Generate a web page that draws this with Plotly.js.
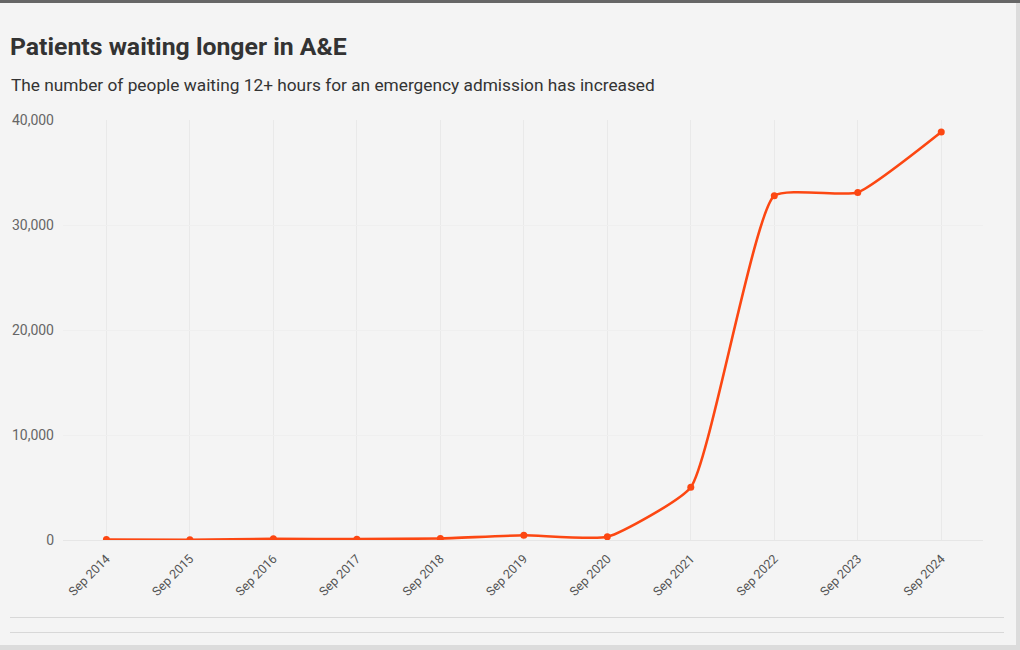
<!DOCTYPE html>
<html>
<head>
<meta charset="utf-8">
<script src="https://cdn.plot.ly/plotly-3.0.1.min.js"></script>
<style>
html,body{margin:0;padding:0;background:#f4f4f4;}
#chart{width:1020px;height:650px;}
</style>
</head>
<body>
<div id="chart"></div>
<script>
const categories = ["Sep 2014","Sep 2015","Sep 2016","Sep 2017","Sep 2018","Sep 2019","Sep 2020","Sep 2021","Sep 2022","Sep 2023","Sep 2024"];
const waiting12h = [50, 30, 110, 80, 150, 450, 300, 5025, 32776, 33100, 38850];
const yTickVals = [0, 10000, 20000, 30000, 40000];
const yTickText = ["0", "10,000", "20,000", "30,000", "40,000"];

const L = 63, R = 37, T = 120, B = 110, W = 1020, H = 650;
const PW = W - L - R, PH = H - T - B;
const px = x => (x - L) / PW;
const py = y => (H - B - y) / PH;

const trace = {
  x: categories,
  y: waiting12h,
  type: 'scatter',
  mode: 'lines+markers',
  line: {color: '#fc4712', width: 2.6, shape: 'spline', smoothing: 0.45},
  marker: {color: '#fc4712', size: 7},
  hoverinfo: 'x+y'
};

const layout = {
  width: W, height: H,
  margin: {l: L, r: R, t: T, b: B},
  paper_bgcolor: '#f4f4f4',
  plot_bgcolor: '#f4f4f4',
  font: {family: 'Roboto, sans-serif', color: '#555'},
  showlegend: false,
  xaxis: {
    type: 'category',
    range: [-0.52, 10.5],
    tickangle: -45,
    showgrid: true,
    gridcolor: '#e9e9e9',
    gridwidth: 1,
    zeroline: false,
    showline: false,
    ticks: '',
    ticklabelstandoff: 8,
    tickfont: {size: 12.5, color: '#555'}
  },
  yaxis: {
    range: [0, 40000],
    tickvals: yTickVals,
    ticktext: yTickText,
    showgrid: true,
    gridcolor: '#efefef',
    zeroline: true,
    zerolinecolor: '#e6e6e6',
    showline: false,
    ticks: '',
    ticklabelstandoff: 8,
    tickfont: {size: 14, color: '#666'}
  },
  annotations: [
    {text: '<b>Patients waiting longer in A&E</b>', xref: 'paper', yref: 'paper',
     x: px(8), y: py(47), xanchor: 'left', yanchor: 'middle', showarrow: false,
     font: {size: 24.8, color: '#333', family: 'Roboto, sans-serif'}},
    {text: 'The number of people waiting 12+ hours for an emergency admission has increased',
     xref: 'paper', yref: 'paper', x: px(9), y: py(85), xanchor: 'left', yanchor: 'middle',
     showarrow: false, font: {size: 17.3, color: '#333', family: 'Roboto, sans-serif'}}
  ],
  shapes: [
    {type: 'rect', xref: 'paper', yref: 'paper', x0: px(0), x1: px(1020), y0: py(0), y1: py(3),
     fillcolor: '#666', line: {width: 0}, layer: 'above'},
    {type: 'rect', xref: 'paper', yref: 'paper', x0: px(1016), x1: px(1020), y0: py(3), y1: py(650),
     fillcolor: '#dcdcdc', line: {width: 0}},
    {type: 'rect', xref: 'paper', yref: 'paper', x0: px(0), x1: px(1020), y0: py(645), y1: py(650),
     fillcolor: '#dcdcdc', line: {width: 0}},
    {type: 'line', xref: 'paper', yref: 'paper', x0: px(10), x1: px(1004), y0: py(617.5), y1: py(617.5),
     line: {color: '#d8d8d8', width: 1}},
    {type: 'line', xref: 'paper', yref: 'paper', x0: px(10), x1: px(1004), y0: py(632.5), y1: py(632.5),
     line: {color: '#d8d8d8', width: 1}}
  ]
};

Plotly.newPlot('chart', [trace], layout, {displayModeBar: false, staticPlot: true});
</script>
</body>
</html>
